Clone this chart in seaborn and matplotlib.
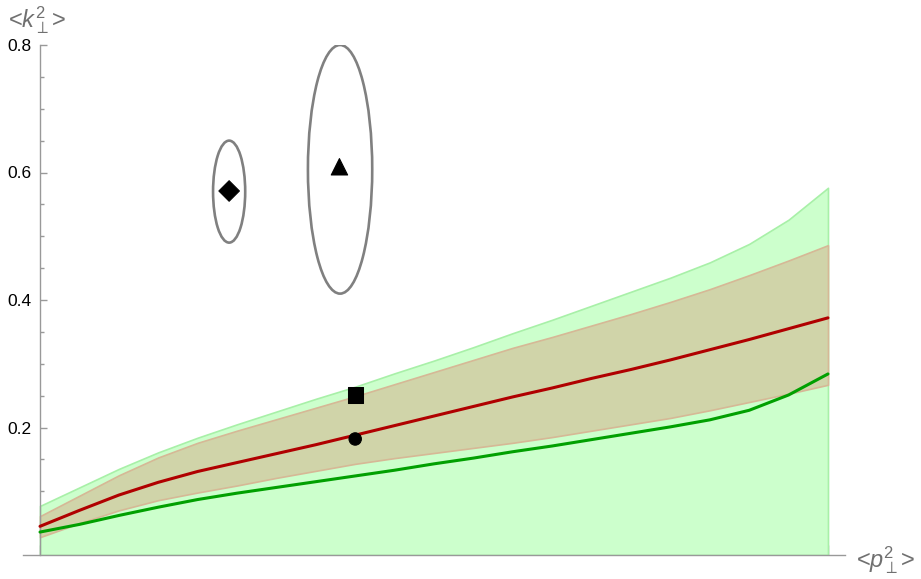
import numpy as np
import pandas as pd
import seaborn as sns
import matplotlib.pyplot as plt
from matplotlib.patches import Ellipse
from matplotlib.ticker import MultipleLocator, FixedLocator, NullFormatter

# values
p2 = [0.0, 0.0125, 0.025, 0.0375, 0.05, 0.0625, 0.075, 0.0875, 0.1, 0.1125, 0.125,
      0.1375, 0.15, 0.1625, 0.175, 0.1875, 0.2, 0.2125, 0.225, 0.2375, 0.25]
red_line = [0.045, 0.070, 0.094, 0.114, 0.131, 0.145, 0.159, 0.173, 0.188, 0.203, 0.218,
            0.233, 0.248, 0.262, 0.277, 0.291, 0.306, 0.322, 0.338, 0.355, 0.372]
green_line = [0.036, 0.048, 0.062, 0.075, 0.087, 0.097, 0.106, 0.115, 0.124, 0.133, 0.143,
              0.152, 0.162, 0.171, 0.181, 0.191, 0.201, 0.212, 0.227, 0.251, 0.284]
green_upper = [0.077, 0.106, 0.135, 0.161, 0.184, 0.205, 0.225, 0.245, 0.264, 0.285, 0.305,
               0.326, 0.348, 0.369, 0.391, 0.413, 0.435, 0.459, 0.488, 0.526, 0.576]
brown_upper = [0.061, 0.093, 0.125, 0.153, 0.176, 0.195, 0.213, 0.231, 0.249, 0.268, 0.287,
               0.306, 0.325, 0.342, 0.360, 0.378, 0.397, 0.417, 0.439, 0.462, 0.486]
brown_lower = [0.028, 0.050, 0.070, 0.086, 0.098, 0.109, 0.121, 0.132, 0.143, 0.152, 0.160,
               0.168, 0.176, 0.185, 0.195, 0.205, 0.215, 0.227, 0.240, 0.253, 0.267]

pt_names = ['diamond', 'triangle', 'square', 'circle']
pt_x = [0.060, 0.095, 0.100, 0.100]
pt_y = [0.571, 0.609, 0.251, 0.182]

ell_x = [0.060, 0.0952]
ell_y = [0.570, 0.605]
ell_halfw = [0.0051, 0.0102]
ell_halfh = [0.080, 0.195]

sns.set_style('white')
plt.rcParams['font.family'] = ['Liberation Sans', 'DejaVu Sans']
plt.rcParams['mathtext.fontset'] = 'custom'
plt.rcParams['mathtext.rm'] = 'Liberation Sans'
plt.rcParams['mathtext.it'] = 'Liberation Sans:italic'

fig = plt.figure(figsize=(9.21, 5.79), dpi=100)
ax = fig.add_axes([23 / 921, 24 / 579, 822 / 921, 510 / 579])

ax.fill_between(p2, 0, green_upper, color='#ccffcc', edgecolor='#a8f0a8', lw=1.2, zorder=1)
ax.fill_between(p2, brown_lower, brown_upper, color='#d0d4a9', edgecolor='#d6b896', lw=1.2, zorder=2)

df = pd.DataFrame({'p2': p2, 'red': red_line, 'green': green_line})
sns.lineplot(data=df, x='p2', y='red', color='#b00000', lw=2.2, ax=ax, zorder=4)
sns.lineplot(data=df, x='p2', y='green', color='#00a000', lw=2.2, ax=ax, zorder=4)

for cx, cy, w, h in zip(ell_x, ell_y, ell_halfw, ell_halfh):
    ax.add_patch(Ellipse((cx, cy), 2 * w, 2 * h, fill=False, edgecolor='#808080', lw=1.9, zorder=3))

pts = pd.DataFrame({'x': pt_x, 'y': pt_y, 'kind': pt_names})
sns.scatterplot(data=pts, x='x', y='y', style='kind',
                markers={'diamond': 'D', 'triangle': '^', 'square': 's', 'circle': 'o'},
                s=[110, 140, 120, 80], color='black', edgecolor='black', legend=False, ax=ax, zorder=5)

ax.set_xlim(-0.0054, 0.2554)
ax.set_ylim(0, 0.8)

for s in ['top', 'right']:
    ax.spines[s].set_visible(False)
ax.spines['left'].set_position(('data', 0))
ax.spines['left'].set_bounds(0, 0.8)
for s in ['left', 'bottom']:
    ax.spines[s].set_color('#999999')
    ax.spines[s].set_linewidth(1.0)

ax.xaxis.set_major_locator(MultipleLocator(0.05))
ax.xaxis.set_minor_locator(MultipleLocator(0.01))
ax.xaxis.set_major_formatter(NullFormatter())
ax.yaxis.set_major_locator(FixedLocator([0.2, 0.4, 0.6, 0.8]))
ax.yaxis.set_minor_locator(FixedLocator([0.05, 0.1, 0.15, 0.25, 0.3, 0.35, 0.45, 0.5, 0.55, 0.65, 0.7, 0.75]))
ax.tick_params(axis='both', which='both', direction='in', color='#999999', width=1.0)
ax.tick_params(axis='x', which='major', length=7, bottom=True)
ax.tick_params(axis='x', which='minor', length=4, bottom=True)
ax.tick_params(axis='y', which='major', length=5, left=True, labelsize=12.5, labelcolor='black', pad=6)
ax.tick_params(axis='y', which='minor', length=3, left=True)
ax.set_yticklabels(['0.2', '0.4', '0.6', '0.8'])

ax.set_xlabel('')
ax.set_ylabel('')
fig.text(8 / 921, 1 - 20 / 579, r'<$k_{\perp}^{2}$>', color='#707070', fontsize=17, va='center', ha='left')
fig.text(856 / 921, 1 - 560 / 579, r'<$p_{\perp}^{2}$>', color='#707070', fontsize=17, va='center', ha='left')

fig.savefig('out.png', dpi=100)
